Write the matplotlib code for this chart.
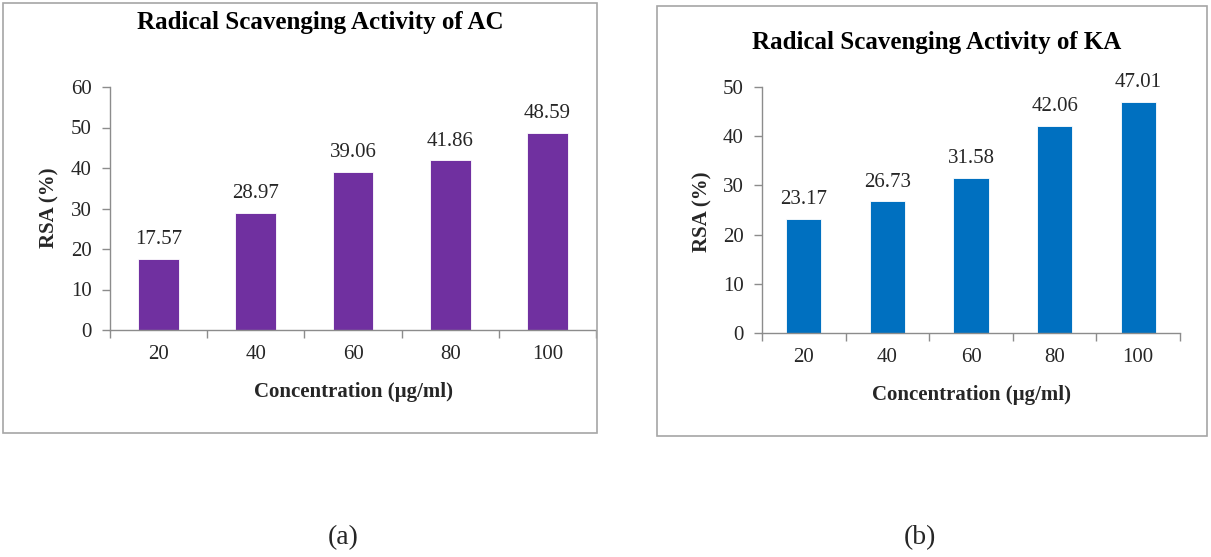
import matplotlib
matplotlib.use("Agg")
import matplotlib.pyplot as plt
from matplotlib.patches import Rectangle
import numpy as np

plt.rcParams['font.family'] = ['Liberation Serif', 'DejaVu Serif']

concentrations = ["20", "40", "60", "80", "100"]
rsa_ac = [17.57, 28.97, 39.06, 41.86, 48.59]
rsa_ka = [23.17, 26.73, 31.58, 42.06, 47.01]
yticks_ac = [0, 10, 20, 30, 40, 50, 60]
yticks_ka = [0, 10, 20, 30, 40, 50]

W, H = 1211, 557
fig = plt.figure(figsize=(W / 100, H / 100), dpi=100)

axis_grey = "#8c8c8c"
text_col = "#262626"


def fx(px):
    return px / W


def fy(py):
    return 1 - py / H


def panel_frame(x0, y0, x1, y1):
    fig.add_artist(Rectangle((fx(x0), fy(y1)), fx(x1 - x0), (y1 - y0) / H,
                             transform=fig.transFigure, fill=False,
                             edgecolor="#a6a6a6", linewidth=1.2))


def bar_panel(rect, values, yticks, color, title, title_xy, ylabel_xy):
    ax = fig.add_axes(rect)
    x = np.arange(len(values))
    ax.bar(x, values, width=0.42, color=color, edgecolor="white", linewidth=0.6, zorder=2)
    for xi, v in zip(x, values):
        ax.annotate(f"{v:.2f}", (xi, v), xytext=(0, 7), textcoords="offset points",
                    ha="center", va="bottom", fontsize=15, color=text_col)
    ax.set_xlim(-0.5, len(values) - 0.5)
    ax.set_ylim(yticks[0], yticks[-1])
    ax.set_yticks(yticks)
    ax.set_xticks(x)
    ax.set_xticklabels(concentrations)
    ax.set_xticks(np.arange(len(values) + 1) - 0.5, minor=True)
    ax.tick_params(axis="x", which="major", length=0, pad=11, labelsize=15, labelcolor=text_col)
    ax.tick_params(axis="x", which="minor", length=6, width=1, color=axis_grey, direction="out")
    ax.tick_params(axis="y", length=6, width=1, color=axis_grey, labelsize=15,
                   labelcolor=text_col, pad=7)
    for s in ("top", "right"):
        ax.spines[s].set_visible(False)
    for s in ("left", "bottom"):
        ax.spines[s].set_color(axis_grey)
        ax.spines[s].set_linewidth(1)
    ax.set_ylabel("RSA (%)", fontsize=15, fontweight="bold", color=text_col)
    ax.yaxis.set_label_coords(fx(ylabel_xy[0]), fy(ylabel_xy[1]), transform=fig.transFigure)
    ax.set_xlabel("Concentration (µg/ml)", fontsize=15, fontweight="bold",
                  color=text_col, labelpad=13)
    fig.text(fx(title_xy[0]), fy(title_xy[1]), title, ha="center", va="center",
             fontsize=18, fontweight="bold", color="black")
    ax.set_facecolor("none")
    return ax


panel_frame(3, 3, 597, 433)
panel_frame(657, 6, 1207, 436)

bar_panel([fx(110), fy(330), fx(596 - 110), (330 - 87) / H], rsa_ac, yticks_ac,
          "#7030a0", "Radical Scavenging Activity of AC", (320, 22), (59, 208))
bar_panel([fx(762), fy(333), fx(1180 - 762), (333 - 87) / H], rsa_ka, yticks_ka,
          "#0070c0", "Radical Scavenging Activity of KA", (937, 42), (712, 212))

fig.text(fx(343), fy(538), "(a)", ha="center", va="center", fontsize=20, color=text_col)
fig.text(fx(920), fy(538), "(b)", ha="center", va="center", fontsize=20, color=text_col)

fig.savefig("out.png", dpi=100, facecolor="white")
